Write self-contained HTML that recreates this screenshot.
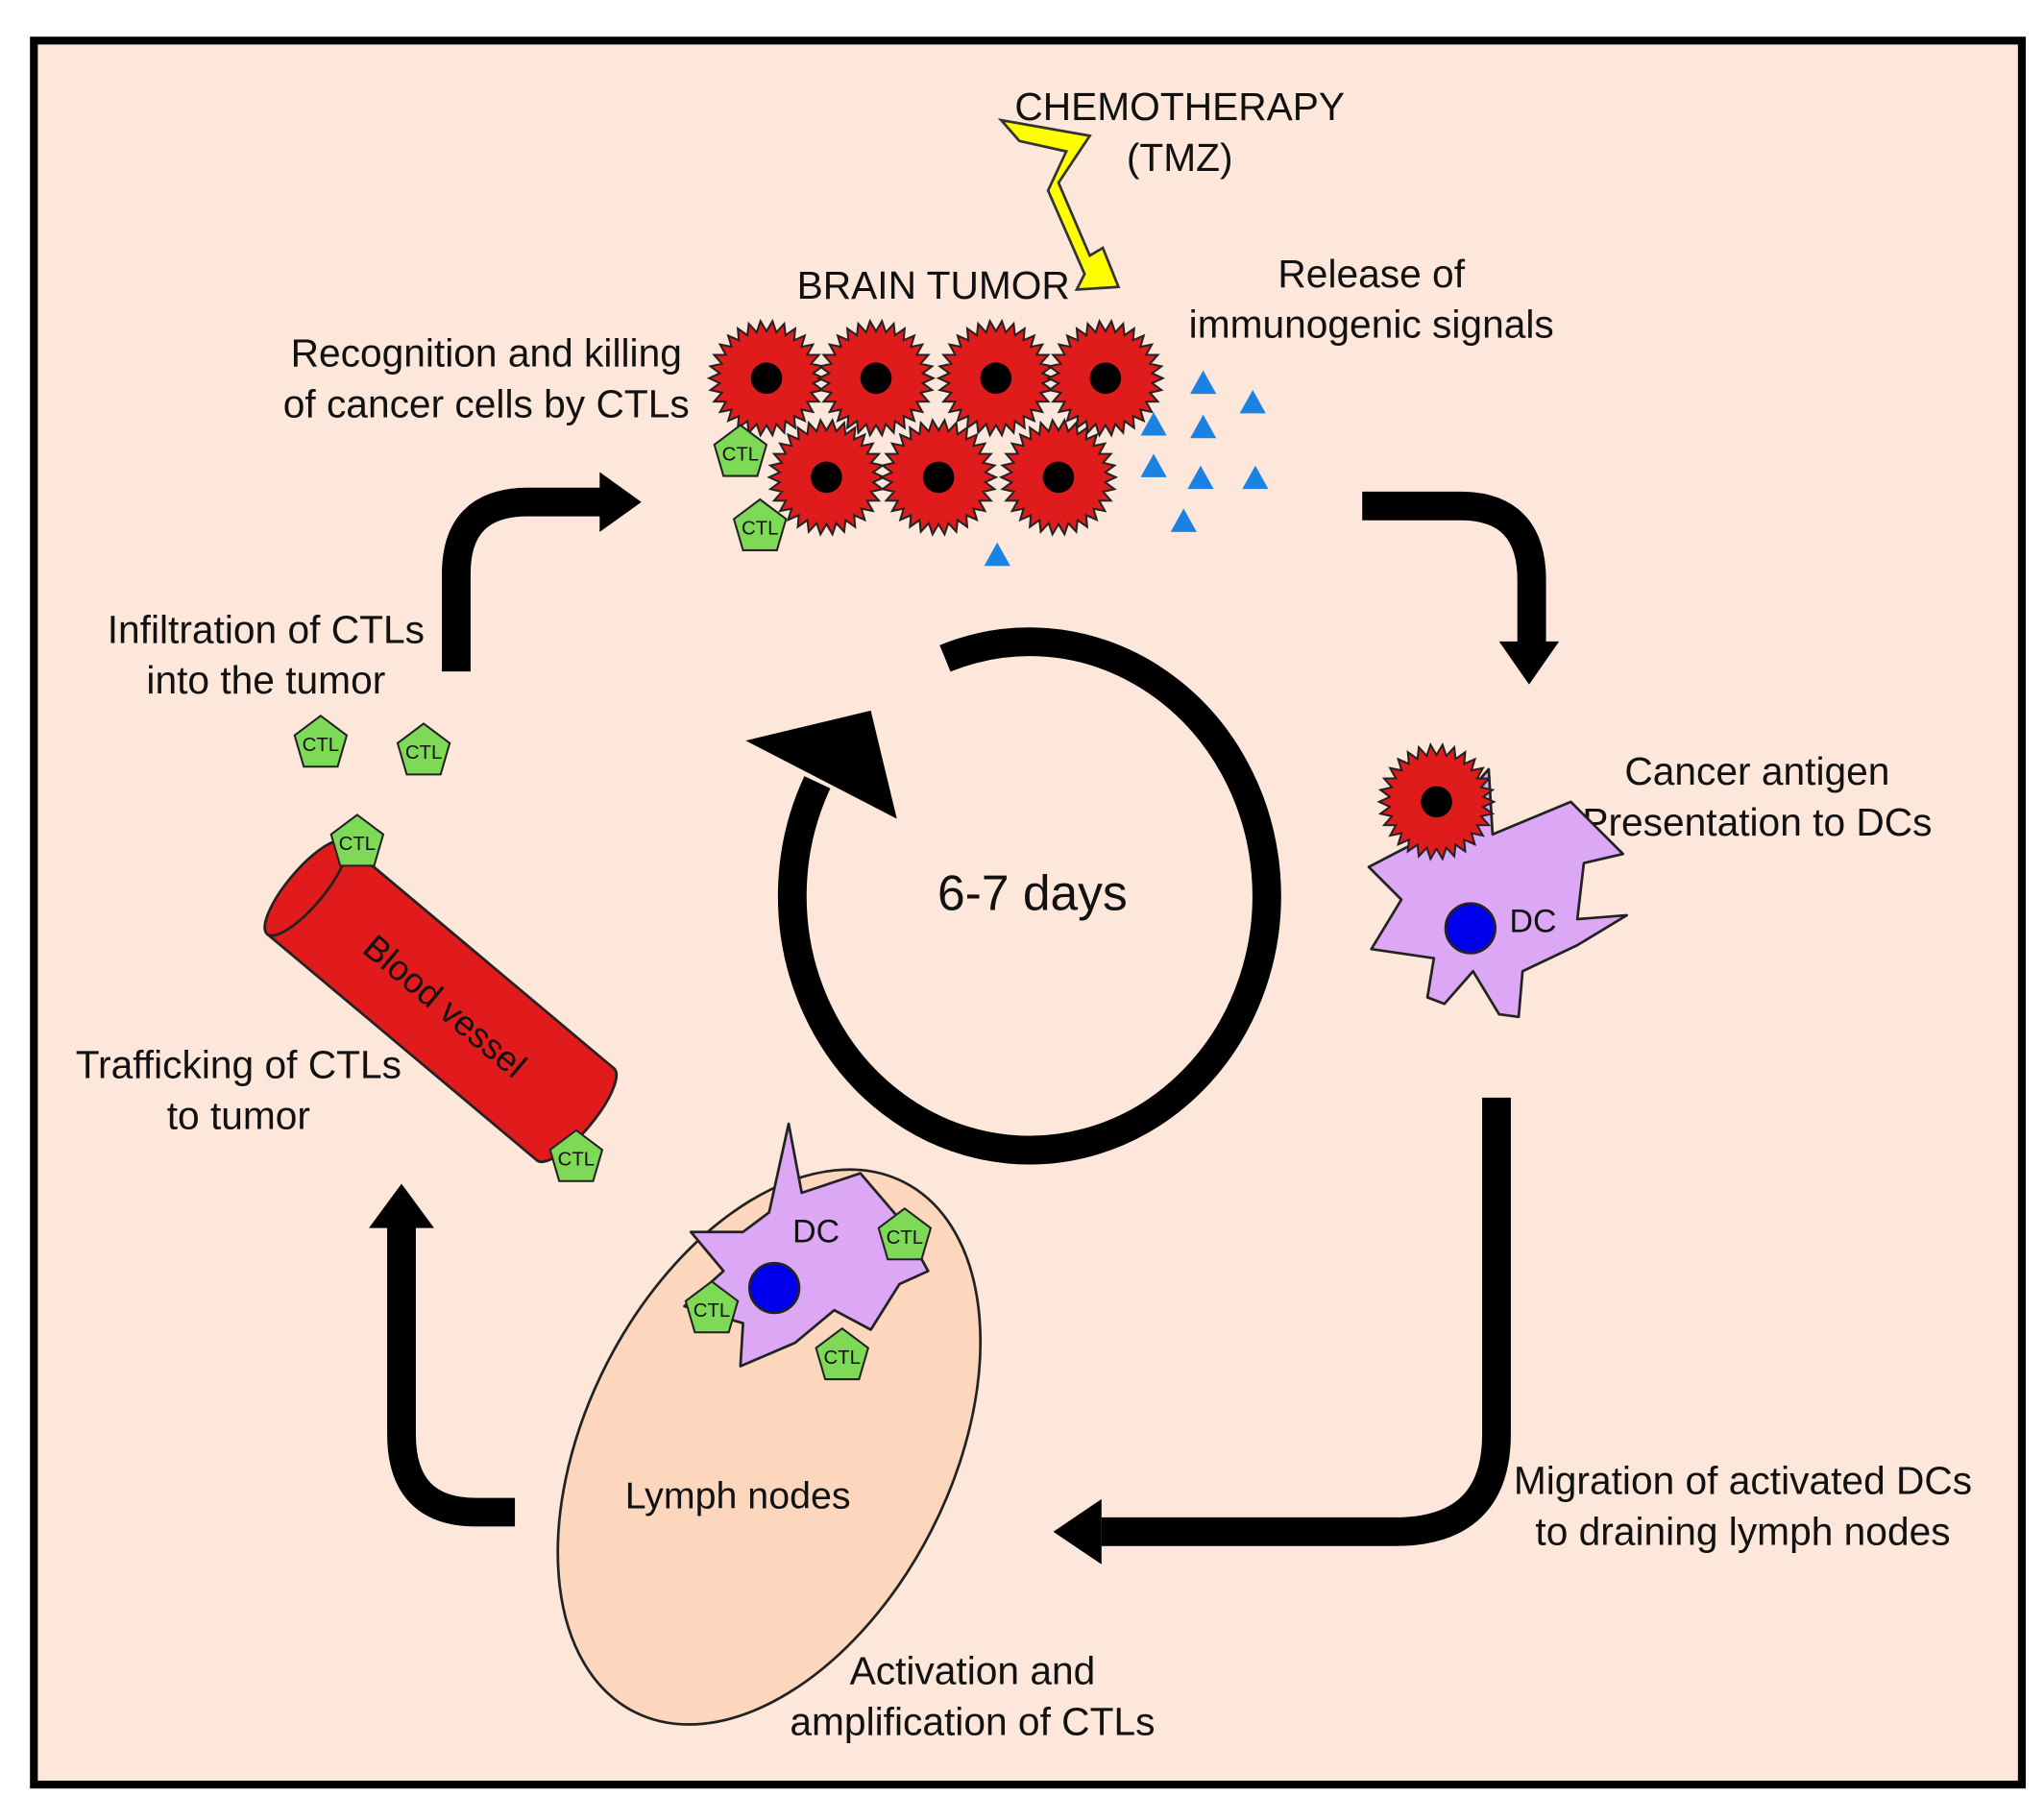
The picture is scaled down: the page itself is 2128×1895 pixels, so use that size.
<!DOCTYPE html>
<html><head><meta charset="utf-8"><style>
html,body{margin:0;padding:0;background:#fff}
svg{display:block}
text{font-family:"Liberation Sans","DejaVu Sans",sans-serif;fill:#111}
</style></head><body>
<svg id="s" width="2128" height="1895" viewBox="0 0 1568 1396" xmlns="http://www.w3.org/2000/svg">
<defs>
<g id="ctl"><polygon points="0,-21 20,-6 13,18 -13,18 -20,-6" fill="#7ed957" stroke="#222" stroke-width="1.5"/><text x="0" y="6" font-size="15" text-anchor="middle">CTL</text></g>
<polygon id="tri" points="0,-10 10,8 -10,8" fill="#1a82e2"/>
</defs>
<rect x="26" y="31" width="1525" height="1338" fill="#fde6da" stroke="#000" stroke-width="6"/>

<!-- lightning -->
<polygon points="768,92 836,104 812,140 836,196 846,190 858,220 826,222 832,210 804,146 818,116 782,108" fill="#ffff00" stroke="#333" stroke-width="2"/>

<!-- texts -->
<g font-size="30" text-anchor="middle">
<text x="905" y="92">CHEMOTHERAPY</text>
<text x="905" y="131">(TMZ)</text>
<text x="716" y="229">BRAIN TUMOR</text>
<text x="1052" y="220">Release of</text>
<text x="1052" y="259">immunogenic signals</text>
<text x="373" y="281">Recognition and killing</text>
<text x="373" y="320">of cancer cells by CTLs</text>
<text x="204" y="493">Infiltration of CTLs</text>
<text x="204" y="532">into the tumor</text>
<text x="1348" y="602">Cancer antigen</text>
<text x="1348" y="641">Presentation to DCs</text>
<text x="183" y="827">Trafficking of CTLs</text>
<text x="183" y="866">to tumor</text>
<text x="1337" y="1146">Migration of activated DCs</text>
<text x="1337" y="1185">to draining lymph nodes</text>
<text x="746" y="1292">Activation and</text>
<text x="746" y="1331">amplification of CTLs</text>
<text x="792" y="698" font-size="38">6-7 days</text>
</g>

<!-- arrows -->
<g fill="none" stroke="#000" stroke-width="22">
<path d="M350,515 V440 Q350,385 405,385 H465"/>
<path d="M1045,388 H1120 Q1175,388 1175,445 V495"/>
<path d="M1148,842 V1100 Q1148,1175 1070,1175 H845"/>
<path d="M395,1160 H365 Q308,1160 308,1100 V940"/>
<path d="M725,505 A182,195 0 1 1 627,600"/>
</g>
<polygon points="460,362 492,385 460,408" fill="#000"/>
<polygon points="1150,492 1196,492 1173,525" fill="#000"/>
<polygon points="845,1150 808,1175 845,1200" fill="#000"/>
<polygon points="283,942 333,942 308,908" fill="#000"/>
<polygon points="572,568 668,545 688,628" fill="#000"/>

<!-- lymph node -->
<ellipse cx="590" cy="1110" rx="140" ry="228" transform="rotate(27 590 1110)" fill="#fcd6bd" stroke="#222" stroke-width="2"/>
<text x="566" y="1157" font-size="29" text-anchor="middle">Lymph nodes</text>

<!-- blood vessel -->
<g transform="translate(338,768) rotate(40)">
<rect x="-135" y="-46" width="270" height="92" fill="#e11b1b" stroke="#222" stroke-width="2"/>
<ellipse cx="135" cy="0" rx="14" ry="46" fill="#e11b1b" stroke="#222" stroke-width="2"/>
<rect x="120" y="-45" width="15" height="90" fill="#e11b1b"/>
<ellipse cx="-135" cy="0" rx="14" ry="46" fill="#e11b1b" stroke="#222" stroke-width="2"/>
<text x="5" y="10" font-size="27" text-anchor="middle">Blood vessel</text>
</g>

<!-- DCs -->
<path d="M1098,640 L1142,590 L1145,640 L1205,615 L1245,655 L1215,662 L1210,705 L1248,702 L1210,725 L1168,745 L1165,780 L1150,778 L1130,745 L1108,770 L1095,765 L1100,735 L1052,728 L1075,690 L1050,665 Z" fill="#dca8f5" stroke="#222" stroke-width="2" stroke-linejoin="round"/>
<circle cx="1128" cy="712" r="19" fill="#0000ee" stroke="#222" stroke-width="2"/>
<text x="1176" y="715" font-size="25" text-anchor="middle">DC</text>

<path d="M590,930 L605,862 L615,915 L660,900 L690,935 L712,975 L690,985 L668,1020 L640,1005 L610,1030 L568,1048 L570,1015 L525,1002 L555,975 L530,945 L570,945 Z" fill="#dca8f5" stroke="#222" stroke-width="2" stroke-linejoin="round"/>
<circle cx="594" cy="988" r="19" fill="#0000ee" stroke="#222" stroke-width="2"/>
<text x="626" y="953" font-size="25" text-anchor="middle">DC</text>

<g id="cells"></g>

<!-- triangles -->
<use href="#tri" x="923" y="294"/><use href="#tri" x="961" y="309"/><use href="#tri" x="885" y="326"/>
<use href="#tri" x="923" y="328"/><use href="#tri" x="885" y="358"/><use href="#tri" x="921" y="367"/>
<use href="#tri" x="963" y="367"/><use href="#tri" x="908" y="400"/><use href="#tri" x="765" y="426"/>

<!-- CTLs -->
<use href="#ctl" x="568" y="347"/><use href="#ctl" x="583" y="404"/>
<use href="#ctl" x="246" y="570"/><use href="#ctl" x="325" y="576"/>
<use href="#ctl" x="274" y="646"/><use href="#ctl" x="442" y="888"/>
<use href="#ctl" x="694" y="948"/><use href="#ctl" x="546" y="1004"/><use href="#ctl" x="646" y="1040"/>
</svg>
<script>
var g=document.getElementById('cells'),ns='http://www.w3.org/2000/svg';
function spiky(cx,cy,R,r,n,nr){var p=[];for(var i=0;i<2*n;i++){var a=Math.PI*i/n,rr=i%2?r:R;p.push((cx+rr*Math.cos(a)).toFixed(1)+','+(cy+rr*Math.sin(a)).toFixed(1));}
var e=document.createElementNS(ns,'polygon');e.setAttribute('points',p.join(' '));e.setAttribute('fill','#e01b1b');e.setAttribute('stroke','#222');e.setAttribute('stroke-width','1.5');g.appendChild(e);
var c=document.createElementNS(ns,'circle');c.setAttribute('cx',cx);c.setAttribute('cy',cy);c.setAttribute('r',nr);c.setAttribute('fill','#000');g.appendChild(c);}
[[588,290],[672,290],[764,290],[848,290],[634,366],[720,366],[812,366]].forEach(function(p){spiky(p[0],p[1],44,36,30,12);});
spiky(1102,615,44,36,30,12);
</script>
</body></html>
